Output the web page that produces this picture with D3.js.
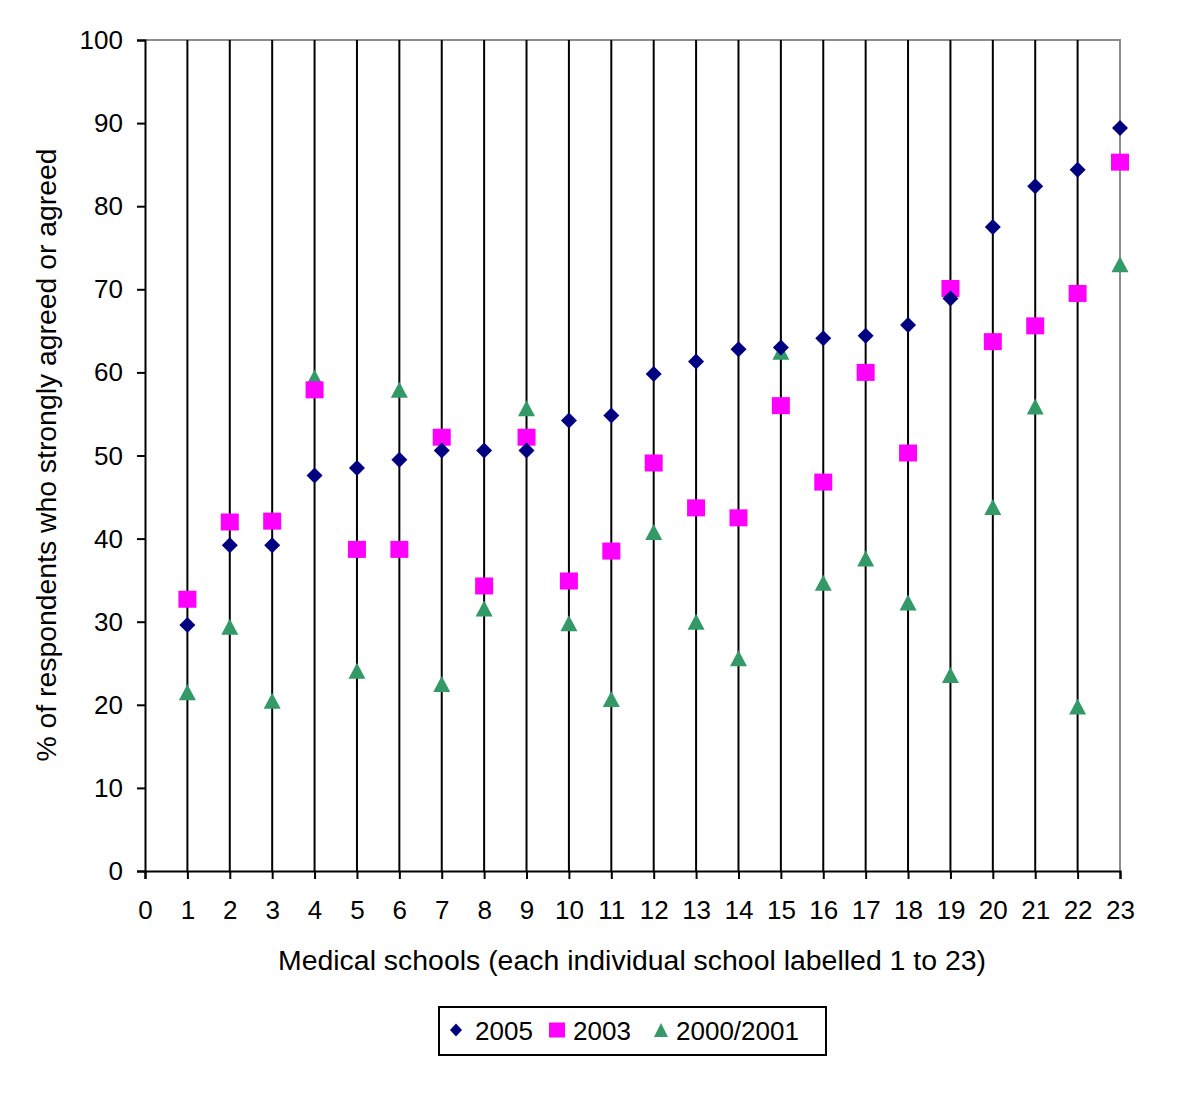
<!DOCTYPE html>
<html><head><meta charset="utf-8">
<script src="https://cdn.jsdelivr.net/npm/d3@7"></script>
<style>body{margin:0;background:#fff;} text{font-family:"Liberation Sans",Arial,sans-serif;fill:#000;}</style>
</head><body>
<svg id="c" width="1200" height="1114"></svg>
<script>
const schools = d3.range(1, 24);
const xTicks = d3.range(0, 24);
const yTicks = [0,10,20,30,40,50,60,70,80,90,100];
const series2005 = [29.6, 39.2, 39.2, 47.6, 48.5, 49.5, 50.6, 50.6, 50.6, 54.2, 54.8, 59.8, 61.3, 62.8, 63.0, 64.1, 64.4, 65.7, 68.9, 77.5, 82.4, 84.4, 89.4];
const series2003 = [32.7, 42.0, 42.1, 57.9, 38.7, 38.7, 52.2, 34.3, 52.2, 34.9, 38.5, 49.1, 43.7, 42.5, 56.0, 46.8, 60.0, 50.3, 70.1, 63.7, 65.6, 69.5, 85.3];
const series2000 = [21.5, 29.4, 20.5, 59.4, 24.1, 57.9, 22.5, 31.6, 55.7, 29.8, 20.7, 40.8, 30.0, 25.6, 62.5, 34.7, 37.6, 32.3, 23.6, 43.8, 55.9, 19.8, 73.0];
const seriesNames = ["2005", "2003", "2000/2001"];

const svg = d3.select("#c");
const L = 145, R = 1120, T = 40, B = 871;
const x = d3.scaleLinear().domain([0, 23]).range([L, R]);
const y = d3.scaleLinear().domain([0, 100]).range([B, T]);

// marker shapes (w = half width, h = half height)
const diamond = (w, h) => `M0,${-h}L${w},0L0,${h}L${-w},0Z`;
const square = (w, h) => `M${-w},${-h}H${w}V${h}H${-w}Z`;
const triangle = (w, h) => `M0,${-h}L${w},${h}L${-w},${h}Z`;
const shapes = [diamond, square, triangle];
const cols = ["#000080", "#FF00FF", "#339966"];
const dims = [[8, 8], [9, 8.5], [8.5, 8]];
const legDims = [[6, 6.5], [8, 7.5], [7, 7]];

// plot border (top & right grey)
svg.append("path").attr("d", `M${L},${T}H${R}V${B}`).attr("fill","none").attr("stroke","#8c8c8c").attr("stroke-width",2);

// vertical gridlines
svg.append("g").selectAll("line").data(schools.filter(d => d < 23)).join("line")
  .attr("x1", d => x(d)).attr("x2", d => x(d)).attr("y1", T).attr("y2", B)
  .attr("stroke", "#000").attr("stroke-width", 2);

const font = "Liberation Sans, Arial, sans-serif";
// y axis
const ya = svg.append("g").attr("transform", `translate(${L},0)`)
  .call(d3.axisLeft(y).tickValues(yTicks).tickSize(8).tickPadding(14).tickFormat(d3.format("d")));
ya.select(".domain").attr("stroke","#000").attr("stroke-width",2);
ya.selectAll(".tick line").attr("stroke","#000").attr("stroke-width",2);
ya.selectAll(".tick text").attr("font-size", 26).attr("fill","#000").attr("font-family",font).attr("dy","0.33em");

// x axis
const xa = svg.append("g").attr("transform", `translate(0,${B})`)
  .call(d3.axisBottom(x).tickValues(xTicks).tickSize(8).tickPadding(22).tickFormat(d3.format("d")));
xa.select(".domain").attr("stroke","#000").attr("stroke-width",2);
xa.selectAll(".tick line").attr("stroke","#000").attr("stroke-width",2);
xa.selectAll(".tick text").attr("font-size", 26).attr("fill","#000").attr("font-family",font);

// markers
const allSeries = [series2005, series2003, series2000];
[2,1,0].forEach(si => {
  svg.append("g").selectAll("path").data(allSeries[si]).join("path")
    .attr("d", shapes[si](dims[si][0], dims[si][1]))
    .attr("transform", (d, i) => `translate(${x(schools[i])},${y(d)})`)
    .attr("fill", cols[si]);
});

// axis titles
svg.append("text").attr("x", 632).attr("y", 970).attr("text-anchor","middle")
  .attr("font-size", 27).attr("textLength", 708).attr("lengthAdjust","spacingAndGlyphs")
  .text("Medical schools (each individual school labelled 1 to 23)");
svg.append("text").attr("transform", `translate(56,455) rotate(-90)`).attr("text-anchor","middle")
  .attr("font-size", 27).attr("textLength", 613).attr("lengthAdjust","spacingAndGlyphs")
  .text("% of respondents who strongly agreed or agreed");

// legend
const lg = svg.append("g");
lg.append("rect").attr("x", 439).attr("y", 1007).attr("width", 387).attr("height", 48)
  .attr("fill","none").attr("stroke","#000").attr("stroke-width",2);
const mx = [456, 557, 661];
const tx = [475, 573, 676];
seriesNames.forEach((n, i) => {
  lg.append("path").attr("d", shapes[i](legDims[i][0], legDims[i][1]))
    .attr("transform", `translate(${mx[i]},1030)`).attr("fill", cols[i]);
  lg.append("text").attr("x", tx[i]).attr("y", 1040).attr("font-size", 26).text(n);
});
</script>
</body></html>
